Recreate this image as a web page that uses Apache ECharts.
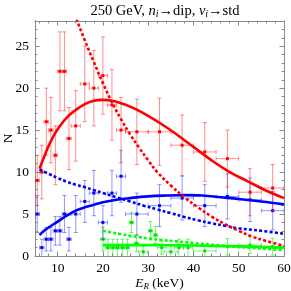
<!DOCTYPE html>
<html>
<head>
<meta charset="utf-8">
<script src="https://cdn.jsdelivr.net/npm/echarts@6/dist/echarts.min.js"></script>
<style>html,body{margin:0;padding:0;background:#fff}#c{width:291px;height:291px}</style>
</head>
<body>
<div id="c"></div>
<script>
// ---- data ----
const binX    = [5.5, 6.5, 7.5, 8.5, 9.5, 10.5, 11.5, 12.5, 14, 16, 18, 20, 22, 24, 27.5, 32.5, 37.5, 42.5, 47.5, 52.5, 57.5];
const binXErr = [0.5, 0.5, 0.5, 0.5, 0.5, 0.5, 0.5, 0.5, 1, 1, 1, 1, 1, 1, 2.5, 2.5, 2.5, 2.5, 2.5, 2.5, 2.5];
const redY    = [9, 10, 16, 15, 12, 22, 22, 14, 15.5, 20.5, 20, 21.5, 18, 15, 14.8, 14.8, 13.2, 12.4, 11.6, 7.6, 8.1];
const redErr  = [3, 3.2, 4, 3.9, 3.5, 4.7, 4.7, 3.7, 4.2, 4.5, 4.5, 4.6, 4.2, 3.9, 3.9, 4, 3.6, 3.5, 3.4, 2.8, 2.8];
const blueY   = [5, 1, 2, 2, 3, 3, 5, 2, 5, 6.5, 7.5, 4, 7.5, 9.5, 5, 6, 6.9, 6, 7.1, 6.7, 5.4];
const blueErr = [2.2, 1, 1.4, 1.4, 1.7, 1.7, 2.2, 1.4, 2.2, 2.5, 2.7, 2, 2.7, 3.1, 2.5, 2.5, 2.6, 2.5, 2.7, 2.6, 2.3];

const greenX    = [20.0, 21.1, 22.2, 23.2, 24.3, 25.4, 26.3, 27.4, 28.9, 30.5, 31.6, 33.0, 35.0, 36.8, 38.8, 42.5, 47.5, 52.5, 57.5];
const greenXErr = [0.5, 0.5, 0.5, 0.5, 0.5, 0.5, 0.5, 0.5, 1, 0.5, 0.5, 1, 1.5, 1, 1, 2.5, 2.5, 2.5, 2.5];
const greenY    = [2, 1, 1, 1, 1, 1, 4, 1.5, 0.5, 3, 2.5, 1, 0.5, 1, 1, 0.6, 1.1, 1.3, 1.1];
const greenErr  = [1.4, 1, 1, 1, 1, 1, 1.2, 1, 0.7, 1.1, 1, 0.8, 0.7, 1, 1, 0.6, 1, 1, 1];

const redSolidX = [6, 7, 8, 9, 10, 12, 14, 16, 18, 20, 22, 24, 26, 28, 30, 33, 36, 40, 44, 48, 52, 56, 60];
const redSolidY = [10.4, 11.8, 13.1, 14.2, 15.1, 16.5, 17.4, 18.1, 18.5, 18.6, 18.5, 18.2, 17.8, 17.3, 16.7, 15.7, 14.6, 13.0, 11.4, 10.0, 8.9, 7.8, 6.9];
const redDotX   = [12, 14, 16, 18, 20, 22, 24, 26, 28, 30, 32, 35, 38, 41, 44, 47, 50, 53, 56, 60];
const redDotY   = [31.8, 28.5, 25.7, 23.1, 20.6, 18.3, 16.3, 14.5, 12.9, 11.4, 10.0, 8.4, 7.0, 5.8, 4.7, 3.8, 3.0, 2.3, 1.8, 1.2];
const blueSolidX = [6, 7, 8, 10, 12, 14, 16, 18, 20, 23, 26, 30, 34, 38, 42, 46, 50, 55, 60];
const blueSolidY = [2.5, 3.0, 3.4, 4.1, 4.8, 5.4, 5.8, 6.1, 6.4, 6.7, 6.9, 7.1, 7.2, 7.25, 7.2, 7.0, 6.8, 6.5, 6.15];
const blueDotX   = [6, 8, 10, 12, 14, 16, 18, 20, 23, 26, 29, 32, 35, 38, 41, 44, 47, 50, 55, 60];
const blueDotY   = [10.3, 9.8, 9.3, 8.85, 8.5, 8.2, 7.85, 7.5, 7.0, 6.5, 6.0, 5.55, 5.1, 4.65, 4.25, 3.9, 3.6, 3.3, 3.0, 2.65];
const greenSolidX = [20, 25, 30, 35, 40, 45, 50, 55, 60];
const greenSolidY = [1.3, 1.3, 1.3, 1.28, 1.25, 1.2, 1.15, 1.08, 1.0];
const greenDotX   = [20, 22, 24, 26, 28, 30, 33, 36, 40, 44, 48, 52, 56, 60];
const greenDotY   = [3.0, 2.8, 2.6, 2.4, 2.25, 2.1, 1.9, 1.75, 1.55, 1.35, 1.15, 1.0, 0.85, 0.7];

const xMajor = [10, 20, 30, 40, 50, 60];
const xMinor = [6, 8, 12, 14, 16, 18, 22, 24, 26, 28, 32, 34, 36, 38, 42, 44, 46, 48, 52, 54, 56, 58];
const yMajor = [0, 5, 10, 15, 20, 25];
const yMinor = [1, 2, 3, 4, 6, 7, 8, 9, 11, 12, 13, 14, 16, 17, 18, 19, 21, 22, 23, 24, 26, 27];

// ---- chart ----
const FONT = '"Liberation Serif", "DejaVu Serif", serif';
const frameColor = '#8a8a8a';
const chart = echarts.init(document.getElementById('c'), null, {renderer: 'canvas'});

function zipPts(xs, ys) { return xs.map((x, i) => [x, ys[i]]); }
function zipErr(xs, ys, xe, ye) { return xs.map((x, i) => [x, ys[i], xe[i], ye[i]]); }

function errSeries(data, color, barColor) {
  return {
    type: 'custom',
    clip: true,
    data: data,
    z: 2,
    renderItem: function (params, api) {
      const x = api.value(0), y = api.value(1), xe = api.value(2), ye = api.value(3);
      const c = api.coord([x, y]);
      const t = api.coord([x, y + ye]);
      const b = api.coord([x, Math.max(0, y - ye)]);
      const l = api.coord([x - xe, y]);
      const r = api.coord([x + xe, y]);
      const cap = 2;
      const st = {stroke: barColor, lineWidth: 1};
      const kids = [
        {type: 'line', shape: {x1: t[0], y1: t[1], x2: b[0], y2: b[1]}, style: st},
        {type: 'line', shape: {x1: t[0] - cap, y1: t[1], x2: t[0] + cap, y2: t[1]}, style: st},
        {type: 'line', shape: {x1: l[0], y1: l[1], x2: r[0], y2: r[1]}, style: st},
        {type: 'line', shape: {x1: l[0], y1: l[1] - cap, x2: l[0], y2: l[1] + cap}, style: st},
        {type: 'line', shape: {x1: r[0], y1: r[1] - cap, x2: r[0], y2: r[1] + cap}, style: st},
        {type: 'rect', shape: {x: c[0] - 1.5, y: c[1] - 1.5, width: 3, height: 3}, style: {fill: color}}
      ];
      if (y - ye > 0) {
        kids.push({type: 'line', shape: {x1: b[0] - cap, y1: b[1], x2: b[0] + cap, y2: b[1]}, style: st});
      }
      return {type: 'group', children: kids};
    }
  };
}

function curve(xs, ys, color, dotted) {
  return {
    type: 'line',
    data: zipPts(xs, ys),
    smooth: 0.4,
    showSymbol: false,
    clip: true,
    z: 3,
    lineStyle: {color: color, width: 2.6, type: dotted ? [3, 2.2] : 'solid', cap: 'butt'}
  };
}

function xAx(pos, ticks, len, labels) {
  return {
    type: 'value', min: 5, max: 60, position: pos,
    axisLine: {show: true, onZero: false, lineStyle: {color: frameColor, width: 1}},
    axisTick: {show: true, inside: true, length: len, customValues: ticks, lineStyle: {color: frameColor, width: 1}},
    axisLabel: labels ? {show: true, customValues: ticks, fontFamily: FONT, fontSize: 13.5, color: '#000', margin: 5} : {show: false},
    splitLine: {show: false}
  };
}
function yAx(pos, ticks, len, labels) {
  return {
    type: 'value', min: 0, max: 28, position: pos,
    axisLine: {show: true, onZero: false, lineStyle: {color: frameColor, width: 1}},
    axisTick: {show: true, inside: true, length: len, customValues: ticks, lineStyle: {color: frameColor, width: 1}},
    axisLabel: labels ? {show: true, customValues: ticks, fontFamily: FONT, fontSize: 13.5, color: '#000', margin: 6} : {show: false},
    splitLine: {show: false}
  };
}

const xAxes = [xAx('bottom', xMajor, 4.5, true), xAx('bottom', xMinor, 2.5, false), xAx('top', xMajor, 4.5, false), xAx('top', xMinor, 2.5, false)];
const yAxes = [yAx('left', yMajor, 4.5, true), yAx('left', yMinor, 2.5, false), yAx('right', yMajor, 4.5, false), yAx('right', yMinor, 2.5, false)];
xAxes[0].name = '{i|E}{s|R}{n| (keV)}';
xAxes[0].nameLocation = 'middle';
xAxes[0].nameGap = 20;
xAxes[0].nameMoveOverlap = false;
xAxes[0].nameTextStyle = {
  fontFamily: FONT, fontSize: 13.5, color: '#000',
  rich: {
    i: {fontFamily: FONT, fontSize: 13.5, fontStyle: 'italic', color: '#000'},
    s: {fontFamily: FONT, fontSize: 9, fontStyle: 'italic', color: '#000', padding: [6, 0, 0, 0]},
    n: {fontFamily: FONT, fontSize: 13.5, color: '#000'}
  }
};
yAxes[0].name = 'N';
yAxes[0].nameLocation = 'middle';
yAxes[0].nameGap = 20;
yAxes[0].nameMoveOverlap = false;
yAxes[0].nameTextStyle = {fontFamily: FONT, fontSize: 13.5, color: '#000'};

const option = {
  animation: false,
  backgroundColor: '#fff',
  title: {
    text: '{a|250 GeV, }{i|n}{s|i}{a|→dip, }{i|v}{s|i}{a|→std}',
    left: 160, top: -2, textAlign: 'center',
    textStyle: {
      fontFamily: FONT, fontSize: 14.5, fontWeight: 'normal', color: '#000',
      rich: {
        a: {fontFamily: FONT, fontSize: 14.5, color: '#000'},
        i: {fontFamily: FONT, fontSize: 14.5, fontStyle: 'italic', color: '#000'},
        s: {fontFamily: FONT, fontSize: 10, fontStyle: 'italic', color: '#000', padding: [6, 0, 0, 0]}
      }
    }
  },
  grid: {left: 35, right: 7, top: 21, bottom: 35, containLabel: false, outerBoundsMode: 'none'},
  xAxis: xAxes,
  yAxis: yAxes,
  series: [
    errSeries(zipErr(greenX, greenY, greenXErr, greenErr), '#00e000', 'rgba(0,230,0,0.55)'),
    errSeries(zipErr(binX, blueY, binXErr, blueErr), '#0000ff', 'rgba(60,60,255,0.55)'),
    errSeries(zipErr(binX, redY, binXErr, redErr), '#ff0000', 'rgba(255,30,30,0.5)'),
    curve(greenSolidX, greenSolidY, '#00ff00', false),
    curve(greenDotX, greenDotY, '#00ff00', true),
    curve(blueSolidX, blueSolidY, '#0000ff', false),
    curve(blueDotX, blueDotY, '#0000ff', true),
    curve(redSolidX, redSolidY, '#ff0000', false),
    curve(redDotX, redDotY, '#ff0000', true)
  ]
};
chart.setOption(option);
</script>
</body>
</html>
